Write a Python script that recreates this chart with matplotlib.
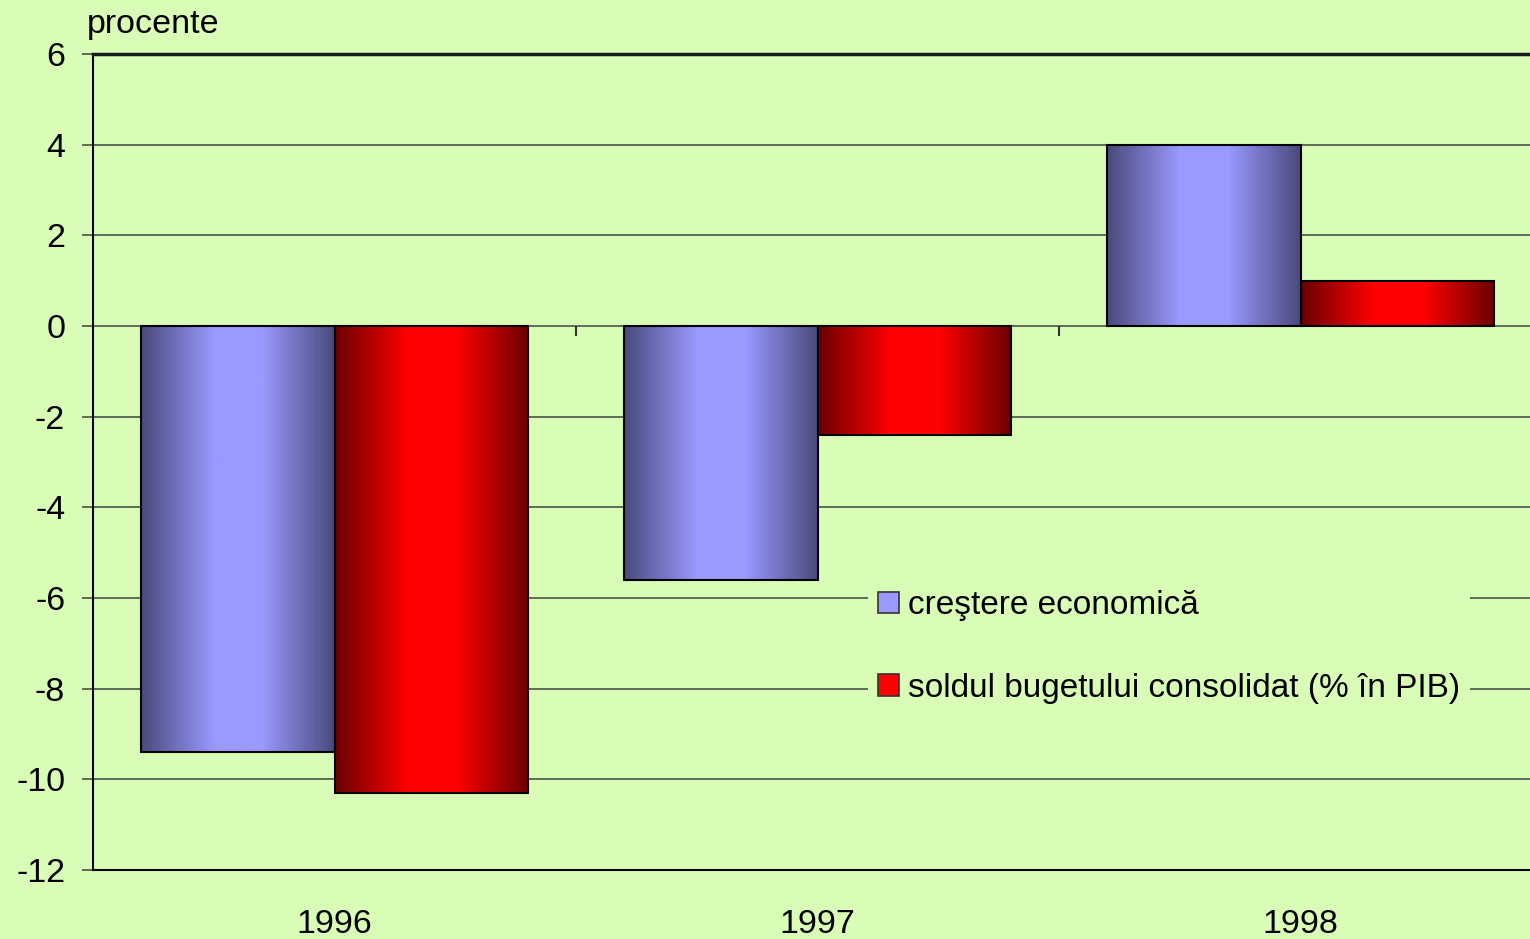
import numpy as np
import matplotlib
matplotlib.use("Agg")
import matplotlib.pyplot as plt
from matplotlib.patches import Patch
from matplotlib.colors import to_rgb

plt.rcParams['font.family'] = ['Liberation Sans', 'DejaVu Sans']

years = ["1996", "1997", "1998"]
crestere = [-9.4, -5.6, 4.0]
sold = [-10.3, -2.4, 1.0]
series_labels = ["creştere economică", "soldul bugetului consolidat (% în PIB)"]
yticks = [6, 4, 2, 0, -2, -4, -6, -8, -10, -12]

BG = "#D9FCB6"
blue_dark, blue_light = "#4A4A7C", "#9999FF"
red_dark, red_light = "#6A0000", "#FF0000"
FS = 24.5

fig = plt.figure(figsize=(15.3, 9.39), dpi=100, facecolor=BG)
ax = fig.add_axes([93/1530, 69/939, 1449/1530, 816/939])
ax.set_facecolor(BG)

def grad_img(dark, light, n=256):
    f = np.linspace(0, 1, n)
    t = np.clip((1 - np.abs(2*f - 1)) / 0.75, 0, 1)
    d = np.array(to_rgb(dark)); l = np.array(to_rgb(light))
    return (d[None, :] + (l - d)[None, :] * t[:, None])[None, :, :]

w = 0.4
x = np.arange(len(years))
for vals, off, dk, lt in [(crestere, -w, blue_dark, blue_light), (sold, 0.0, red_dark, red_light)]:
    img = grad_img(dk, lt)
    for xi, v in zip(x, vals):
        x0 = xi + off
        ax.imshow(img, extent=(x0, x0 + w, min(0, v), max(0, v)), aspect='auto',
                  interpolation='bilinear', zorder=3)
    ax.bar(x + off, vals, width=w, align='edge', fill=False, edgecolor='black',
           linewidth=1.5, zorder=4)

ax.set_xlim(-0.5, len(years) - 0.5)
ax.set_ylim(-12, 6)
ax.set_yticks(yticks)
ax.set_yticklabels([str(t) for t in yticks])
ax.grid(axis='y', color='#556050', linewidth=1.3, zorder=1)
ax.set_axisbelow(True)
ax.set_xticks(x)
ax.set_xticklabels(years)
ax.tick_params(axis='x', length=0, pad=28, labelsize=FS)
ax.tick_params(axis='y', length=8, width=1.3, color='#556050', pad=12, labelsize=FS)

# category boundary ticks on the zero line
bounds = x[:-1] + 0.5
ax.vlines(bounds, -0.22, 0, color='#333333', linewidth=1.5, zorder=2)

for s in ['left', 'bottom']:
    ax.spines[s].set_color('black'); ax.spines[s].set_linewidth(1.5)
ax.spines['top'].set_color('#1a1a1a'); ax.spines['top'].set_linewidth(2.5)
ax.spines['right'].set_visible(False)

handles = [Patch(facecolor=blue_light, edgecolor='#333333', linewidth=1.2),
           Patch(facecolor=red_light, edgecolor='#333333', linewidth=1.2)]
leg = fig.legend(handles, series_labels, loc='center left',
                 bbox_to_anchor=(868/1530, 1 - 647/939), frameon=True, facecolor=BG,
                 edgecolor='none', framealpha=1, fontsize=24, labelspacing=1.55,
                 handlelength=0.62, handleheight=0.62, handletextpad=0.28,
                 borderpad=0.3, borderaxespad=0)
leg.get_frame().set_linewidth(0)

fig.text(87/1530, 1 - 33/939, "procente", fontsize=FS, ha='left', va='baseline')

fig.savefig("out.png", dpi=100, facecolor=BG)
